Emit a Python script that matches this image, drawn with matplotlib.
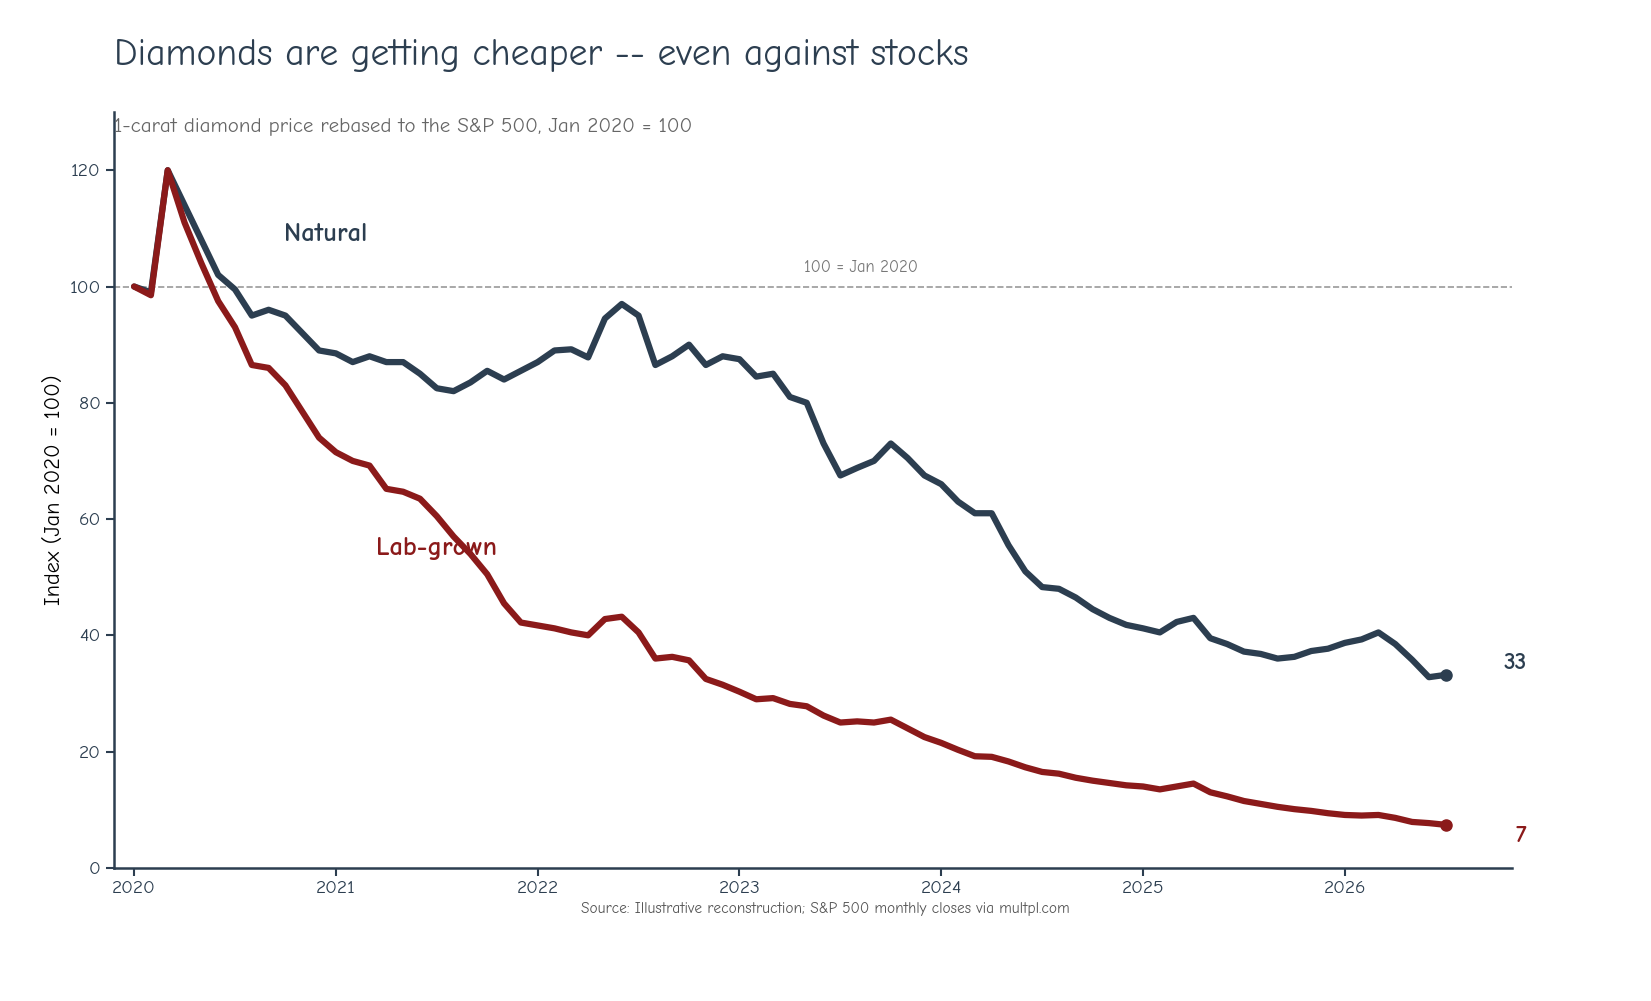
import numpy as np
import matplotlib.pyplot as plt

plt.rcParams['font.family'] = ['Comic Neue', 'Lato', 'DejaVu Sans']

natural = [100, 99, 120, 114, 108, 102, 99.5, 95, 96, 95, 92, 89,
           88.5, 87, 88, 87, 87, 85, 82.5, 82, 83.5, 85.5, 84, 85.5,
           87, 89, 89.2, 87.8, 94.5, 97, 95, 86.5, 88, 90, 86.5, 88,
           87.5, 84.5, 85, 81, 80, 73, 67.5, 68.8, 70, 73, 70.5, 67.5,
           66, 63, 61, 61, 55.5, 51, 48.3, 48, 46.5, 44.5, 43, 41.8,
           41.2, 40.5, 42.3, 43, 39.5, 38.5, 37.2, 36.8, 36, 36.3, 37.3, 37.7,
           38.7, 39.3, 40.5, 38.5, 35.8, 32.8, 33.2]
lab = [100, 98.5, 120, 111, 104, 97.5, 93, 86.5, 86, 83, 78.5, 74,
       71.5, 70, 69.2, 65.2, 64.7, 63.5, 60.5, 57, 54, 50.5, 45.5, 42.2,
       41.7, 41.2, 40.5, 40, 42.8, 43.2, 40.5, 36, 36.3, 35.7, 32.5, 31.5,
       30.3, 29, 29.2, 28.2, 27.8, 26.2, 25, 25.2, 25, 25.5, 24, 22.5,
       21.5, 20.3, 19.2, 19.1, 18.3, 17.3, 16.5, 16.2, 15.5, 15, 14.6, 14.2,
       14, 13.5, 14, 14.5, 13, 12.3, 11.5, 11, 10.5, 10.1, 9.8, 9.4,
       9.1, 9, 9.1, 8.6, 7.9, 7.7, 7.4]
years = [2020, 2021, 2022, 2023, 2024, 2025, 2026]

t = 2020 + np.arange(len(natural)) / 12
c_nat = '#2c3e50'
c_lab = '#8b1a1a'

fig = plt.figure(figsize=(16.51, 10.01), dpi=100)
ax = fig.add_axes([0.069, 0.133, 0.847, 0.755])
ax.axhline(100, color='#999999', ls='--', lw=1.2)
ax.text(2023.6, 102.5, '100 = Jan 2020', color='#777777', fontsize=12, ha='center')
ax.plot(t, natural, color=c_nat, lw=4.5, solid_capstyle='round')
ax.plot(t, lab, color=c_lab, lw=4.5, solid_capstyle='round')
ax.plot(t[-1], natural[-1], 'o', color=c_nat, ms=8)
ax.plot(t[-1], lab[-1], 'o', color=c_lab, ms=8)
ax.text(2026.9, natural[-1] + 2, f'{natural[-1]:.0f}', color=c_nat, fontsize=17, fontweight='bold', ha='right', va='center')
ax.text(2026.9, lab[-1] - 2, f'{lab[-1]:.0f}', color=c_lab, fontsize=17, fontweight='bold', ha='right', va='center')
ax.text(2020.95, 109, 'Natural', color=c_nat, fontsize=19, fontweight='bold', ha='center', va='center')
ax.text(2021.5, 55, 'Lab-grown', color=c_lab, fontsize=19, fontweight='bold', ha='center', va='center')

ax.set_xlim(2019.9, 2026.83)
ax.set_ylim(0, 130)
ax.set_xticks(years)
ax.set_xticklabels([str(y) for y in years])
ax.set_yticks(range(0, 121, 20))
ax.tick_params(colors=c_nat, labelsize=14, width=1.5, length=6)
for s in ['top', 'right']:
    ax.spines[s].set_visible(False)
for s in ['left', 'bottom']:
    ax.spines[s].set_color(c_nat)
    ax.spines[s].set_linewidth(1.8)
ax.set_ylabel('Index (Jan 2020 = 100)', fontsize=16)

fig.text(0.069, 0.935, 'Diamonds are getting cheaper -- even against stocks', fontsize=27, color=c_nat)
fig.text(0.069, 0.868, '1-carat diamond price rebased to the S&P 500, Jan 2020 = 100', fontsize=15, color='#666666')
fig.text(0.5, 0.088, 'Source: Illustrative reconstruction; S&P 500 monthly closes via multpl.com', fontsize=11, color='#555555', ha='center')

fig.savefig('out.png', dpi=100)
